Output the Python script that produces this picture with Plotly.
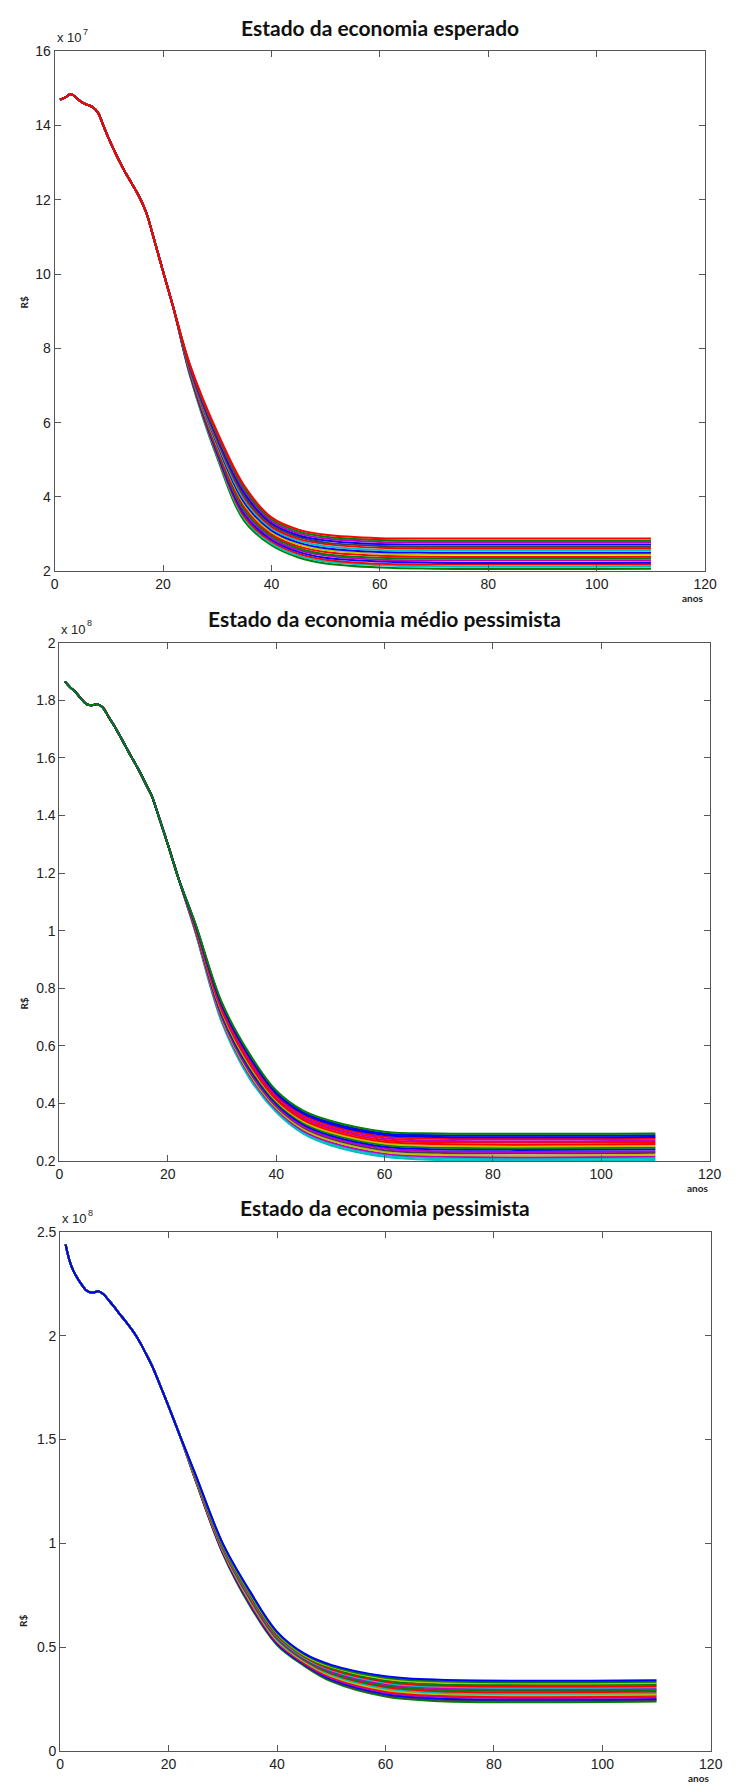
import plotly.graph_objects as go

# ---------------- data ----------------
years_head = [1, 2, 3, 4, 5, 6, 7, 8, 9, 10, 11, 12, 13, 14, 15, 16, 17, 18, 20, 22]
years_tail = [25, 30, 35, 40, 45, 50, 60, 70, 110]

# Panel 1: "Estado da economia esperado"  (R$ x 1e7)
head_esperado = [14.70, 14.76, 14.85, 14.75, 14.63, 14.56, 14.50, 14.35, 14.00, 13.65,
                 13.33, 13.03, 12.75, 12.50, 12.25, 11.97, 11.62, 11.12, 10.08, 9.05]
tail_esperado = [
    [7.25, 5.05, 3.35, 2.70, 2.37, 2.21, 2.10, 2.07, 2.07],
    [7.27, 5.10, 3.42, 2.75, 2.42, 2.26, 2.16, 2.13, 2.13],
    [7.29, 5.14, 3.47, 2.80, 2.47, 2.31, 2.20, 2.18, 2.18],
    [7.31, 5.19, 3.54, 2.85, 2.52, 2.36, 2.26, 2.23, 2.23],
    [7.33, 5.24, 3.61, 2.90, 2.57, 2.42, 2.31, 2.29, 2.29],
    [7.35, 5.28, 3.66, 2.95, 2.62, 2.46, 2.36, 2.34, 2.34],
    [7.37, 5.33, 3.73, 3.00, 2.67, 2.52, 2.42, 2.39, 2.39],
    [7.39, 5.38, 3.80, 3.05, 2.72, 2.57, 2.47, 2.45, 2.45],
    [7.41, 5.42, 3.85, 3.10, 2.77, 2.62, 2.52, 2.50, 2.50],
    [7.43, 5.47, 3.92, 3.15, 2.82, 2.67, 2.57, 2.56, 2.56],
    [7.45, 5.52, 3.99, 3.20, 2.87, 2.73, 2.63, 2.61, 2.61],
    [7.47, 5.56, 4.04, 3.25, 2.92, 2.77, 2.68, 2.66, 2.66],
    [7.49, 5.61, 4.11, 3.30, 2.97, 2.83, 2.73, 2.72, 2.72],
    [7.51, 5.66, 4.18, 3.35, 3.02, 2.88, 2.79, 2.78, 2.78],
    [7.53, 5.70, 4.23, 3.40, 3.07, 2.93, 2.84, 2.82, 2.82],
    [7.55, 5.75, 4.30, 3.45, 3.12, 2.98, 2.89, 2.88, 2.88],
]
colors_esperado = ['g', 'c', 'r', 'b', 'm', 'g', 'r', 'y', 'b', 'c', 'r', 'k', 'b', 'm', 'g', 'r']

# Panel 2: "Estado da economia médio pessimista"  (R$ x 1e8)
head_medio = [1.865, 1.845, 1.828, 1.805, 1.787, 1.783, 1.787, 1.775, 1.745, 1.715,
              1.682, 1.648, 1.613, 1.580, 1.545, 1.507, 1.470, 1.415, 1.300, 1.180]
tail_medio = [
    [1.000, 0.680, 0.490, 0.370, 0.295, 0.255, 0.215, 0.204, 0.204],
    [1.002, 0.685, 0.496, 0.375, 0.301, 0.261, 0.221, 0.210, 0.210],
    [1.004, 0.689, 0.501, 0.380, 0.305, 0.266, 0.226, 0.216, 0.216],
    [1.006, 0.694, 0.507, 0.385, 0.311, 0.272, 0.232, 0.222, 0.222],
    [1.008, 0.699, 0.513, 0.390, 0.317, 0.278, 0.238, 0.229, 0.229],
    [1.010, 0.703, 0.518, 0.395, 0.321, 0.283, 0.244, 0.234, 0.234],
    [1.012, 0.708, 0.524, 0.400, 0.327, 0.289, 0.250, 0.241, 0.241],
    [1.014, 0.713, 0.530, 0.405, 0.333, 0.295, 0.256, 0.247, 0.247],
    [1.016, 0.717, 0.535, 0.410, 0.337, 0.300, 0.261, 0.253, 0.253],
    [1.018, 0.722, 0.541, 0.415, 0.343, 0.306, 0.267, 0.259, 0.259],
    [1.020, 0.727, 0.547, 0.420, 0.349, 0.312, 0.273, 0.266, 0.266],
    [1.022, 0.731, 0.552, 0.425, 0.353, 0.317, 0.279, 0.271, 0.271],
    [1.024, 0.736, 0.558, 0.430, 0.359, 0.323, 0.285, 0.278, 0.278],
    [1.026, 0.741, 0.564, 0.435, 0.365, 0.329, 0.291, 0.284, 0.284],
    [1.028, 0.745, 0.569, 0.440, 0.369, 0.334, 0.296, 0.290, 0.290],
    [1.030, 0.750, 0.575, 0.445, 0.375, 0.340, 0.302, 0.296, 0.296],
]
colors_medio = ['c', 'c', 'm', 'y', 'k', 'm', 'b', 'g', 'y', 'r', 'r', 'm', 'r', 'b', 'b', 'g']

# Panel 3: "Estado da economia pessimista"  (R$ x 1e8)
head_pessimista = [2.440, 2.340, 2.285, 2.245, 2.215, 2.208, 2.214, 2.200, 2.170, 2.138,
                   2.104, 2.072, 2.038, 2.000, 1.955, 1.905, 1.852, 1.790, 1.660, 1.525]
tail_pessimista = [
    [1.300, 0.950, 0.700, 0.510, 0.410, 0.335, 0.262, 0.240, 0.238],
    [1.302, 0.954, 0.705, 0.515, 0.414, 0.341, 0.269, 0.247, 0.245],
    [1.304, 0.957, 0.709, 0.518, 0.418, 0.345, 0.275, 0.253, 0.251],
    [1.306, 0.960, 0.714, 0.523, 0.422, 0.351, 0.282, 0.261, 0.259],
    [1.308, 0.964, 0.719, 0.528, 0.426, 0.357, 0.288, 0.268, 0.266],
    [1.310, 0.967, 0.723, 0.531, 0.430, 0.361, 0.294, 0.274, 0.272],
    [1.312, 0.970, 0.728, 0.536, 0.434, 0.367, 0.301, 0.281, 0.279],
    [1.314, 0.974, 0.733, 0.541, 0.438, 0.373, 0.308, 0.288, 0.286],
    [1.316, 0.977, 0.737, 0.544, 0.442, 0.377, 0.314, 0.295, 0.293],
    [1.318, 0.980, 0.742, 0.549, 0.446, 0.383, 0.321, 0.302, 0.300],
    [1.320, 0.984, 0.747, 0.554, 0.450, 0.389, 0.328, 0.309, 0.307],
    [1.322, 0.987, 0.751, 0.557, 0.454, 0.393, 0.334, 0.315, 0.313],
    [1.324, 0.990, 0.756, 0.562, 0.458, 0.399, 0.340, 0.322, 0.320],
    [1.326, 0.994, 0.761, 0.567, 0.462, 0.405, 0.347, 0.330, 0.328],
    [1.328, 0.997, 0.765, 0.570, 0.466, 0.409, 0.353, 0.336, 0.334],
    [1.330, 1.000, 0.770, 0.575, 0.470, 0.415, 0.360, 0.343, 0.341],
]
colors_pessimista = ['g', 'k', 'b', 'm', 'r', 'y', 'c', 'r', 'g', 'm', 'c', 'r', 'g', 'y', 'g', 'b']

titles = ["Estado da economia esperado",
          "Estado da economia médio pessimista",
          "Estado da economia pessimista"]
exponents = ["7", "8", "8"]
x_ticks = [0, 20, 40, 60, 80, 100, 120]
y_ticks_esperado = [2, 4, 6, 8, 10, 12, 14, 16]
y_ticks_medio = [0.2, 0.4, 0.6, 0.8, 1.0, 1.2, 1.4, 1.6, 1.8, 2.0]
y_tick_text_medio = ["0.2", "0.4", "0.6", "0.8", "1", "1.2", "1.4", "1.6", "1.8", "2"]
y_ticks_pessimista = [0, 0.5, 1.0, 1.5, 2.0, 2.5]
y_tick_text_pessimista = ["0", "0.5", "1", "1.5", "2", "2.5"]

# ---------------- styling ----------------
MATLAB = {'b': '#0000ff', 'g': '#008000', 'r': '#ff0000', 'c': '#00bfbf',
          'm': '#bf00bf', 'y': '#bfbf00', 'k': '#404040'}
W, H = 738, 1792
# plot boxes in pixels: (left, right, top, bottom)
boxes = [(51.7, 716.7, 43.7, 568.3),
         (56.7, 721.2, 640.5, 1163.5),
         (57.4, 722.4, 1235.0, 1758.7)]
rs_y = [297.5, 1005, 1628]

fig = go.Figure()
panels = [(head_esperado, tail_esperado, colors_esperado),
          (head_medio, tail_medio, colors_medio),
          (head_pessimista, tail_pessimista, colors_pessimista)]
for p, (head, tail, cols) in enumerate(panels):
    xa = 'x' if p == 0 else f'x{p+1}'
    ya = 'y' if p == 0 else f'y{p+1}'
    for row, c in zip(tail, cols):
        fig.add_trace(go.Scatter(
            x=years_head + years_tail, y=head + row, mode='lines',
            line=dict(color=MATLAB[c], width=2, shape='spline', smoothing=1.0),
            xaxis=xa, yaxis=ya, showlegend=False, hoverinfo='skip'))

axis_common = dict(showline=True, linecolor='#555555', linewidth=1, mirror='ticks',
                   ticks='inside', ticklen=6, tickwidth=1, tickcolor='#555555',
                   showgrid=False, zeroline=False,
                   tickfont=dict(family='Liberation Sans, Arial', size=14, color='#222222'))

yconf = [dict(range=[2, 16], tickvals=y_ticks_esperado,
              ticktext=[str(v) for v in y_ticks_esperado]),
         dict(range=[0.2, 2], tickvals=y_ticks_medio, ticktext=y_tick_text_medio),
         dict(range=[0, 2.5], tickvals=y_ticks_pessimista, ticktext=y_tick_text_pessimista)]

layout = dict(width=W, height=H, margin=dict(l=0, r=0, t=0, b=0),
              paper_bgcolor='white', plot_bgcolor='white', showlegend=False)
annotations = []
for p, (l, r, t, b) in enumerate(boxes):
    sx = '' if p == 0 else str(p + 1)
    layout['xaxis' + sx] = dict(domain=[l / W, r / W], range=[0, 120], tickvals=x_ticks,
                                anchor='y' + sx, **axis_common)
    layout['yaxis' + sx] = dict(domain=[1 - b / H, 1 - t / H], anchor='x' + sx,
                                **yconf[p], **axis_common)
    cx = (l + r) / 2
    annotations.append(dict(text=titles[p], x=cx / W, y=1 - (t - 24.5) / H,
                            xref='paper', yref='paper', xanchor='center', yanchor='middle',
                            showarrow=False,
                            font=dict(family='Lato', size=21, color='#111111', weight='bold')))
    # "x 10" multiplier and its exponent
    annotations.append(dict(text='x 10', x=l / W, y=1 - (t - 13.5) / H,
                            xref='paper', yref='paper', xanchor='left', yanchor='middle',
                            showarrow=False,
                            font=dict(family='Liberation Sans, Arial', size=13, color='#222222')))
    annotations.append(dict(text=exponents[p], x=(l + 26.5) / W, y=1 - (t - 19.5) / H,
                            xref='paper', yref='paper', xanchor='left', yanchor='middle',
                            showarrow=False,
                            font=dict(family='Liberation Sans, Arial', size=9, color='#222222')))
    annotations.append(dict(text='R$', x=20 / W, y=1 - rs_y[p] / H, xref='paper', yref='paper',
                            xanchor='center', yanchor='middle', textangle=-90, showarrow=False,
                            font=dict(family='Lato', size=10, color='#222222', weight='bold')))
    annotations.append(dict(text='anos', x=r / W, y=1 - (b + 27) / H, xref='paper',
                            yref='paper', xanchor='right', yanchor='middle', showarrow=False,
                            font=dict(family='Lato', size=10, color='#222222', weight='bold')))
layout['annotations'] = annotations
fig.update_layout(**layout)
fig.write_html("out.html")
